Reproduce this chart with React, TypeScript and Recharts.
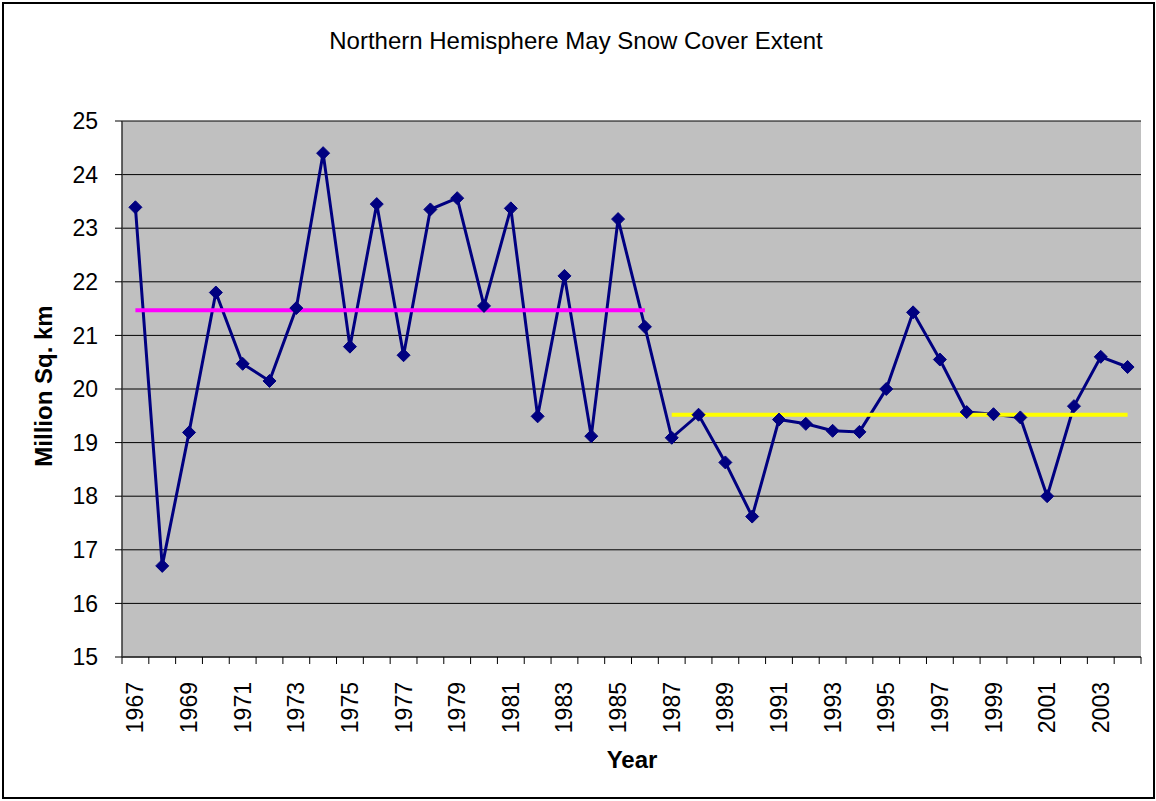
import React from "react";
import { CartesianGrid, Label, Line, LineChart, XAxis, YAxis } from "recharts";

const years = [
  1967, 1968, 1969, 1970, 1971, 1972, 1973, 1974, 1975, 1976, 1977, 1978, 1979,
  1980, 1981, 1982, 1983, 1984, 1985, 1986, 1987, 1988, 1989, 1990, 1991, 1992,
  1993, 1994, 1995, 1996, 1997, 1998, 1999, 2000, 2001, 2002, 2003, 2004,
];

// million sq. km
const snowCover = [
  23.39, 16.7, 19.19, 21.8, 20.47, 20.15, 21.51, 24.4, 20.79, 23.45, 20.63, 23.35, 23.56,
  21.55, 23.37, 19.49, 22.11, 19.12, 23.17, 21.16, 19.09, 19.52, 18.63, 17.62, 19.43, 19.35,
  19.22, 19.2, 20.0, 21.43, 20.55, 19.57, 19.53, 19.47, 18.0, 19.68, 20.6, 20.41,
];

const earlyPeriod = [1967, 1986];
const earlyMean = 21.47;
const latePeriod = [1987, 2004];
const lateMean = 19.52;

const yTicks = [15, 16, 17, 18, 19, 20, 21, 22, 23, 24, 25];

const data = years.map((year, i) => ({
  year,
  snow: snowCover[i],
  early: year >= earlyPeriod[0] && year <= earlyPeriod[1] ? earlyMean : null,
  late: year >= latePeriod[0] && year <= latePeriod[1] ? lateMean : null,
}));

const W = 1156;
const H = 801;
const LEFT = 122;
const RIGHT = 15;
const TOP = 121;
const BOTTOM = 144;
const FONT = "'Liberation Sans', Arial, sans-serif";

// each year gets a band, points sit in the middle of it
const band = (W - LEFT - RIGHT) / years.length;

function DiamondDot(props: any) {
  const { cx, cy } = props;
  if (cx == null || cy == null) return null;
  const r = 6.5;
  return (
    <polygon
      points={`${cx},${cy - r} ${cx + r},${cy} ${cx},${cy + r} ${cx - r},${cy}`}
      fill="#000080"
      stroke="#000080"
      strokeWidth={1}
    />
  );
}

function YearTick(props: any) {
  const { x, y, index, payload } = props;
  const last = index === years.length - 1;
  const ly = y + 25;
  return (
    <g>
      <line x1={x - band / 2} x2={x - band / 2} y1={y} y2={y + 7} stroke="#000" />
      {last && <line x1={x + band / 2} x2={x + band / 2} y1={y} y2={y + 7} stroke="#000" />}
      {index % 2 === 0 && (
        <text
          x={x}
          y={ly}
          transform={`rotate(-90, ${x}, ${ly})`}
          textAnchor="end"
          dominantBaseline="central"
          fontSize={23}
          fill="#000"
          fontFamily={FONT}
        >
          {payload.value}
        </text>
      )}
    </g>
  );
}

export default function App() {
  return (
    <div style={{ position: "absolute", left: 0, top: 0, width: W, height: H, fontFamily: FONT, background: "#fff" }}>
      <div
        style={{
          position: "absolute",
          left: 2,
          top: 2,
          width: 1153,
          height: 797,
          border: "2px solid #000",
          boxSizing: "border-box",
        }}
      />
      <div
        style={{
          position: "absolute",
          left: 0,
          top: 29,
          width: 1152,
          textAlign: "center",
          fontSize: 24,
          lineHeight: "24px",
          color: "#000",
        }}
      >
        Northern Hemisphere May Snow Cover Extent
      </div>
      <div style={{ position: "absolute", left: 0, top: 0 }}>
        <LineChart width={W} height={H} data={data} margin={{ top: TOP, right: RIGHT, bottom: 0, left: 0 }}>
          <CartesianGrid vertical={false} stroke="#000" fill="#c0c0c0" />
          <XAxis
            dataKey="year"
            type="category"
            interval={0}
            height={BOTTOM}
            padding={{ left: band / 2, right: band / 2 }}
            tickSize={0}
            tickMargin={0}
            tickLine={false}
            axisLine={{ stroke: "#333", strokeWidth: 1.5 }}
            tick={<YearTick />}
          >
            <Label
              content={() => (
                <text x={632} y={768} textAnchor="middle" fontSize={24} fontWeight="bold" fill="#000" fontFamily={FONT}>
                  Year
                </text>
              )}
            />
          </XAxis>
          <XAxis
            xAxisId="top"
            dataKey="year"
            orientation="top"
            height={0}
            tick={false}
            tickLine={false}
            axisLine={{ stroke: "#808080", strokeWidth: 1.5 }}
          />
          <YAxis
            domain={[15, 25]}
            ticks={yTicks}
            width={LEFT}
            tickSize={7}
            tickMargin={17}
            tickLine={{ stroke: "#000" }}
            axisLine={{ stroke: "#333", strokeWidth: 1.5 }}
            tick={{ fontSize: 23, fill: "#000", fontFamily: FONT }}
            interval={0}
          >
            <Label
              content={() => (
                <text
                  x={43}
                  y={386}
                  transform="rotate(-90, 43, 386)"
                  textAnchor="middle"
                  dominantBaseline="central"
                  fontSize={24}
                  fontWeight="bold"
                  fill="#000"
                  fontFamily={FONT}
                >
                  Million Sq. km
                </text>
              )}
            />
          </YAxis>
          <YAxis
            yAxisId="right"
            orientation="right"
            domain={[15, 25]}
            width={0}
            tick={false}
            tickLine={false}
            axisLine={{ stroke: "#808080", strokeWidth: 1.5 }}
          />
          <Line
            dataKey="snow"
            type="linear"
            stroke="#000080"
            strokeWidth={3}
            dot={(p: any) => <DiamondDot key={p.index} {...p} />}
            activeDot={false}
            isAnimationActive={false}
          />
          <Line
            dataKey="early"
            type="linear"
            stroke="#ff00ff"
            strokeWidth={4}
            dot={false}
            activeDot={false}
            connectNulls={false}
            isAnimationActive={false}
          />
          <Line
            dataKey="late"
            type="linear"
            stroke="#ffff00"
            strokeWidth={4}
            dot={false}
            activeDot={false}
            connectNulls={false}
            isAnimationActive={false}
          />
        </LineChart>
      </div>
    </div>
  );
}
